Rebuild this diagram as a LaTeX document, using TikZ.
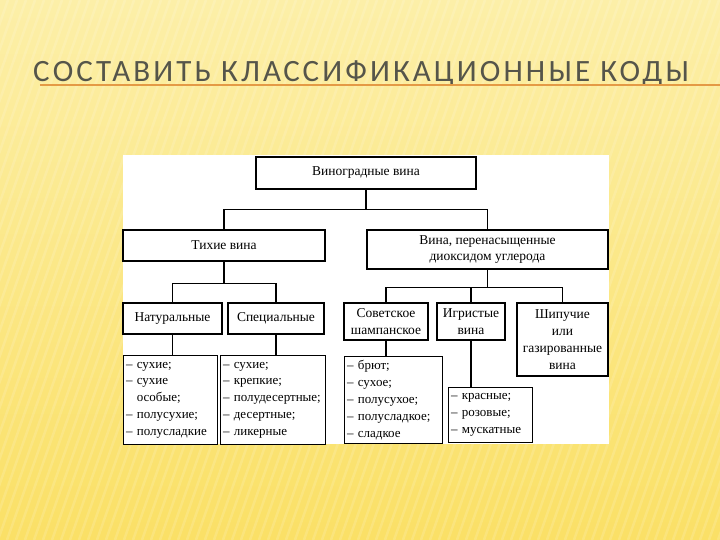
\documentclass[tikz,border=0pt]{standalone}
\usepackage{fontspec}
\setmainfont{Liberation Serif}
\newfontfamily\titlefont[LetterSpace=10]{Carlito}
\usetikzlibrary{positioning}

\definecolor{bgtop}{HTML}{FCEFA8}
\definecolor{bgbot}{HTML}{FAE066}
\definecolor{titlegray}{HTML}{55554A}
\definecolor{lineorange}{HTML}{E49A45}

\begin{document}
\begin{tikzpicture}[
  x=1pt, y=-1pt,
  every node/.style={font=\fontsize{13.5}{16.8}\selectfont},
  box/.style={draw, line width=1.1pt, fill=white, inner sep=2pt, align=center},
  listbox/.style={box, align=left, inner xsep=2.5pt, anchor=north west, font=\fontsize{13}{16.8}\selectfont}
]
\useasboundingbox (0,0) rectangle (720,540);
% background
\shade[top color=bgtop, bottom color=bgbot] (0,0) rectangle (720,540);
\begin{scope}
\clip (0,0) rectangle (720,540);
\foreach \i in {-200,-191,...,720}
  \draw[white, opacity=0.14, line width=2.5pt] (\i,540) -- (\i+190,0);
\end{scope}

% title
\node[anchor=base west, inner sep=0pt, text=titlegray, font=\titlefont\fontsize{31}{31}\selectfont] (title) at (33,82) {СОСТАВИТЬ КЛАССИФИКАЦИОННЫЕ КОДЫ};
\draw[lineorange, line width=2.5pt] (40,85) -- (720,85);

% chart panel
\fill[white] (123,155) rectangle (609,444);

\node[box, minimum width=220, minimum height=32] (root) at (366,173) {Виноградные вина};
\node[box, minimum width=202, minimum height=31] (still) at (224,245.5) {Тихие вина};
\node[box, minimum width=241, minimum height=39] (carb) at (487.5,249.5) {Вина, перенасыщенные\\диоксидом углерода};

\node[box, minimum width=99, minimum height=31] (nat) at (172.5,318.5) {Натуральные};
\node[box, minimum width=96, minimum height=31] (spec) at (276,318.5) {Специальные};
\node[box, minimum width=84, minimum height=37] (sov) at (386,321.5) {Советское\\шампанское};
\node[box, minimum width=68, minimum height=37] (igr) at (471,321.5) {Игристые\\вина};
\node[box, minimum width=91, minimum height=73] (ship) at (562.5,339.5) {Шипучие\\или\\газированные\\вина};

\node[listbox, text width=89, minimum height=89] (natlist) at (123,355) {–~сухие;\\–~сухие\\\hphantom{–~}особые;\\–~полусухие;\\–~полусладкие};
\node[listbox, text width=100, minimum height=89] (speclist) at (220,355) {–~сухие;\\–~крепкие;\\\mbox{–~полудесертные;}\\–~десертные;\\–~ликерные};
\node[listbox, text width=93, minimum height=87] (sovlist) at (344,356) {–~брют;\\–~сухое;\\–~полусухое;\\–~полусладкое;\\–~сладкое};
\node[listbox, text width=79, minimum height=55] (igrlist) at (448,387) {–~красные;\\–~розовые;\\–~мускатные};

% connectors
\draw[line width=1.1pt] (root.south) -- ++(0,20) -| (still.north);
\draw[line width=1.1pt] (root.south) -- ++(0,20) -| (carb.north);
\draw[line width=1.1pt] (still.south) -- ++(0,22) -| (nat.north);
\draw[line width=1.1pt] (still.south) -- ++(0,22) -| (spec.north);
\draw[line width=1.1pt] (carb.south) -- ++(0,18) -| (sov.north);
\draw[line width=1.1pt] (carb.south) -- ++(0,18) -| (igr.north);
\draw[line width=1.1pt] (carb.south) -- ++(0,18) -| (ship.north);
\draw[line width=1.1pt] (nat.south) -- (nat.south |- natlist.north);
\draw[line width=1.1pt] (spec.south) -- (spec.south |- speclist.north);
\draw[line width=1.1pt] (sov.south) -- (sov.south |- sovlist.north);
\draw[line width=1.1pt] (igr.south) -- (igr.south |- igrlist.north);
\end{tikzpicture}
\end{document}
